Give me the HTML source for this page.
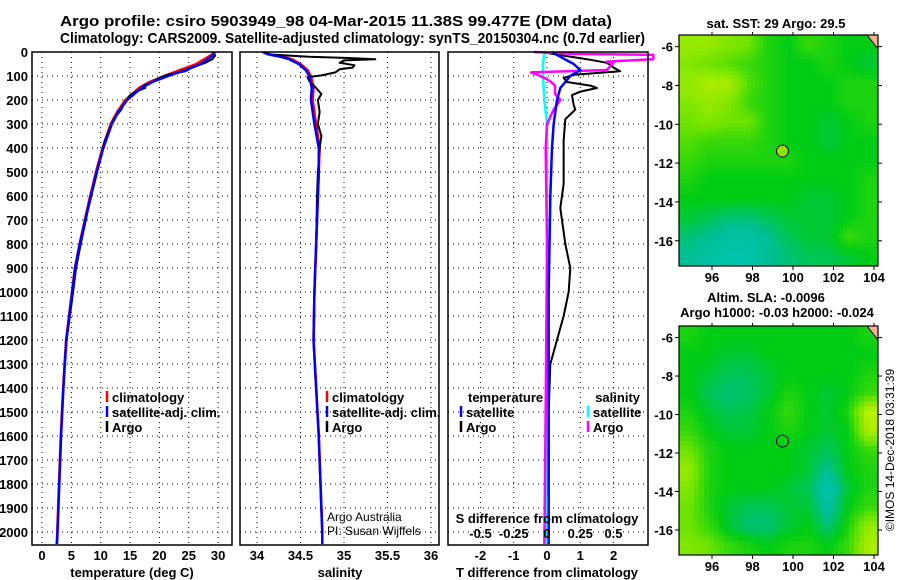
<!DOCTYPE html>
<html><head><meta charset="utf-8"><style>
body{margin:0;background:#fff}
svg{display:block}
text{font-family:"Liberation Sans",sans-serif;font-weight:bold;font-size:13px;fill:#000}
</style></head><body>
<svg id="c" width="900" height="580" viewBox="0 0 900 580">
<text x="60" y="26" textLength="552" lengthAdjust="spacingAndGlyphs" style="font-size:15px">Argo profile: csiro 5903949_98 04-Mar-2015 11.38S 99.477E (DM data)</text>
<text x="60" y="43" textLength="585" lengthAdjust="spacingAndGlyphs" style="font-size:15px">Climatology: CARS2009. Satellite-adjusted climatology: synTS_20150304.nc (0.7d earlier)</text>
</svg>
<script>
// ---- data ----
const depthTicks=[0,100,200,300,400,500,600,700,800,900,1000,1100,1200,1300,1400,1500,1600,1700,1800,1900,2000];
const tempTicks=[0,5,10,15,20,25,30];
const salTicks=[34,34.5,35,35.5,36];
const salTickLabels=["34","34.5","35","35.5","36"];
const tdiffTicks=[-2,-1,0,1,2];
const sdiffTicks=[-0.5,-0.25,0,0.25,0.5];
const sdiffTickLabels=["-0.5","-0.25","0","0.25","0.5"];
const tClim=[[0,29.3],[10,29],[25,28],[50,26.3],[75,23.5],[100,20.8],[125,18.3],[150,16.5],[200,14.2],[250,12.8],[300,11.7],[400,10.3],[500,9.2],[600,8.2],[700,7.3],[800,6.4],[900,5.6],[1000,5.1],[1200,4.1],[1400,3.6],[1600,3.2],[1800,2.9],[2000,2.6],[2050,2.5]];
const tSat=[[0,29.4],[10,29.3],[25,28.5],[50,27.1],[75,24.5],[100,21.5],[125,18.8],[150,16.9],[200,14.5],[250,13],[300,11.9],[400,10.45],[500,9.3],[600,8.3],[700,7.35],[800,6.45],[900,5.65],[1000,5.15],[1200,4.15],[1400,3.65],[1600,3.25],[1800,2.95],[2000,2.65],[2050,2.55]];
const tArgo=[[0,29.1],[15,29.5],[30,29.0],[45,27.8],[65,25.5],[80,24.5],[95,21.4],[108,20],[125,18.8],[140,17.3],[150,17.6],[165,16],[180,15],[220,13.9],[240,13.5],[280,12.2],[370,10.7],[550,8.9],[650,7.9],[800,6.6],[900,5.8],[1000,5.3],[1100,4.75],[1200,4.2],[1300,3.85],[1500,3.4],[1800,2.93],[2000,2.63]];
const sClim=[[0,34.08],[10,34.15],[20,34.3],[30,34.4],[50,34.5],[75,34.58],[100,34.62],[150,34.65],[200,34.64],[300,34.68],[400,34.72],[500,34.71],[600,34.7],[800,34.68],[1000,34.66],[1200,34.65],[1400,34.68],[1600,34.71],[1800,34.73],[2000,34.75],[2050,34.75]];
const sSat=[[0,34.08],[10,34.13],[20,34.27],[30,34.37],[50,34.48],[75,34.56],[100,34.6],[150,34.63],[200,34.62],[300,34.66],[400,34.71],[500,34.71],[600,34.7],[800,34.68],[1000,34.66],[1200,34.65],[1400,34.68],[1600,34.71],[1800,34.73],[2000,34.75],[2050,34.75]];
const sArgo=[[0,34.06],[10,34.12],[20,34.6],[25,35.05],[30,35.36],[35,35.0],[45,34.95],[55,35.12],[65,35.1],[72,34.95],[85,34.9],[97,34.75],[105,34.58],[120,34.6],[150,34.68],[175,34.74],[200,34.7],[250,34.72],[300,34.7],[350,34.74],[400,34.72],[500,34.7],[600,34.69],[800,34.68],[1000,34.66],[1200,34.65],[1400,34.68],[1600,34.71],[1800,34.73],[2000,34.75]];
const dTSat=[[0,0.15],[20,0.4],[50,0.8],[75,1.0],[100,0.7],[150,0.4],[200,0.3],[300,0.2],[400,0.15],[600,0.1],[1000,0.05],[2050,0.05]];
const dTArgo=[[0,-0.2],[15,0.5],[30,1.2],[45,1.8],[65,2.0],[80,2.2],[95,0.8],[108,0.5],[125,0.6],[140,1.3],[150,1.5],[165,1.0],[180,0.75],[220,0.8],[240,0.85],[280,0.55],[370,0.5],[550,0.5],[650,0.4],[800,0.55],[900,0.7],[1000,0.65],[1100,0.5],[1200,0.3],[1300,0.1],[1500,0.05],[2000,0.05]];
const dSSat=[[0,-0.02],[50,-0.03],[100,-0.03],[200,-0.02],[300,0],[2050,0]];
const dSArgo=[[0,-0.1],[8,0.2],[12,0.8],[30,0.8],[40,0.45],[45,0.5],[75,0.45],[85,-0.12],[100,-0.05],[120,0.02],[140,0.06],[175,0.06],[200,0.1],[240,0.05],[300,0],[400,-0.01],[800,0],[1500,-0.01],[2050,-0.02]];
const lonTicks=[96,98,100,102,104];
const latTicks=[-6,-8,-10,-12,-14,-16];
const sstGrid=[
[.8,.8,.75,.7,.55,.5,.6,.55,.5,.5],
[.75,.7,.65,.6,.55,.5,.5,.55,.5,.45],
[.8,.85,.85,.65,.55,.5,.5,.5,.55,.55],
[.75,.8,.75,.6,.55,.5,.5,.5,.55,.55],
[.7,.75,.7,.7,.55,.5,.5,.45,.5,.55],
[.65,.6,.6,.6,.55,.5,.5,.45,.5,.5],
[.6,.55,.55,.55,.55,.55,.5,.5,.5,.5],
[.55,.5,.5,.5,.5,.5,.5,.5,.5,.55],
[.5,.5,.5,.5,.5,.5,.45,.45,.5,.55],
[.45,.4,.35,.35,.4,.45,.45,.45,.5,.55],
[.35,.3,.25,.25,.3,.4,.45,.45,.6,.55],
[.3,.25,.2,.2,.3,.35,.4,.4,.45,.5]];
const slaGrid=[
[.55,.5,.5,.5,.5,.5,.5,.5,.5,.55],
[.5,.5,.45,.45,.5,.5,.5,.5,.5,.5],
[.5,.45,.4,.4,.45,.5,.5,.5,.5,.55],
[.5,.4,.35,.38,.45,.55,.5,.45,.5,.6],
[.55,.45,.4,.42,.5,.6,.5,.45,.55,.9],
[.6,.5,.45,.45,.5,.55,.5,.45,.5,.85],
[.7,.55,.5,.5,.5,.5,.45,.4,.5,.6],
[.8,.55,.5,.5,.5,.5,.45,.3,.5,.55],
[.75,.55,.5,.5,.5,.45,.4,.2,.45,.55],
[.7,.55,.45,.4,.4,.45,.45,.25,.5,.6],
[.7,.6,.45,.35,.35,.45,.5,.35,.55,.8],
[.75,.7,.6,.55,.5,.55,.55,.5,.6,.85]];

// ---- helpers ----
const svg=document.getElementById('c');const NS='http://www.w3.org/2000/svg';
function mk(tag,attrs,parent){const e=document.createElementNS(NS,tag);for(const k in attrs)e.setAttribute(k,attrs[k]);(parent||svg).appendChild(e);return e;}
const Y0=52,Y1=545;
const yD=d=>Y0+d*0.24;
const xT=v=>42+v*5.87;
const xS=v=>257+(v-34)*87;
const xDT=v=>547+v*33.3;
const xDS=v=>547+v*133;
function grid(x0,x1,xs){
  depthTicks.forEach(d=>{if(d>0){const l=mk('line',{x1:x0,x2:x1,y1:yD(d),y2:yD(d),stroke:'#000','stroke-dasharray':'1,4'});
  }});
  xs.forEach(x=>{const l=mk('line',{x1:x,x2:x,y1:Y0,y2:Y1,stroke:'#000','stroke-dasharray':'1,4'});
  });
}
function frame(x0,x1,name){const r=mk('rect',{x:x0,y:Y0,width:x1-x0,height:Y1-Y0,fill:'none',stroke:'#000','stroke-width':1.5});
}
function line(data,xf,color,name,w){const p=mk('polyline',{points:data.map(p=>xf(p[1])+','+yD(p[0])).join(' '),fill:'none',stroke:color,'stroke-width':w||2.5,'stroke-linejoin':'round'});
}
function txt(x,y,s,anchor,name,extra){const t=mk('text',Object.assign({x:x,y:y,'text-anchor':anchor||'start'},extra||{}));t.textContent=s;
return t;}
function legItem(x,y,color,label,name){const l=mk('line',{x1:x,x2:x,y1:y-11,y2:y,stroke:color,'stroke-width':2.5});

txt(x+5,y,label,'start',name);}

// panel 1
const p1a=32,p1b=232;
grid(p1a,p1b,tempTicks.map(xT));
line(tClim,xT,'#f00','temperature-climatology-line');
line(tArgo,xT,'#000','temperature-argo-line',2);
line(tSat,xT,'#00f','temperature-satellite-line');
frame(p1a,p1b,'temperature-plot-area');
depthTicks.forEach(d=>txt(28,yD(d)+5,String(d),'end','depth-tick-label'));
tempTicks.forEach(v=>txt(xT(v),560,String(v),'middle','temperature-tick-label'));
txt(132,577,'temperature (deg C)','middle','x-axis-title-temperature');
legItem(107,402,'#f00','climatology','legend-climatology');
legItem(107,417,'#00f','satellite-adj. clim.','legend-satellite-adj');
legItem(107,432,'#000','Argo','legend-argo');

// panel 2
const p2a=240,p2b=439;
grid(p2a,p2b,salTicks.map(xS));
line(sClim,xS,'#f00','salinity-climatology-line');
line(sArgo,xS,'#000','salinity-argo-line',2);
line(sSat,xS,'#00f','salinity-satellite-line');
frame(p2a,p2b,'salinity-plot-area');
salTicks.forEach((v,i)=>txt(xS(v),560,salTickLabels[i],'middle','salinity-tick-label'));
txt(340,577,'salinity','middle','x-axis-title-salinity');
legItem(327,402,'#f00','climatology','legend-climatology-2');
legItem(327,417,'#00f','satellite-adj. clim.','legend-satellite-adj-2');
legItem(327,432,'#000','Argo','legend-argo-2');
txt(327,521,'Argo Australia','start','credit-argo-australia',{style:'font-weight:normal;font-size:12px'});
txt(327,535,'PI: Susan Wijffels','start','credit-pi',{style:'font-weight:normal;font-size:12px'});

// panel 3
const p3a=448,p3b=648;
grid(p3a,p3b,tdiffTicks.map(xDT));
const defs=mk('defs',{});
const cp=mk('clipPath',{id:'cp3'},defs);mk('rect',{x:p3a,y:Y0,width:p3b-p3a,height:Y1-Y0},cp);
line(dSSat,xDS,'#0ff','salinity-diff-satellite-line');
line(dTArgo,xDT,'#000','temperature-diff-argo-line',2);
line(dSArgo,xDS,'#f0f','salinity-diff-argo-line');
line(dTSat,xDT,'#00f','temperature-diff-satellite-line');
frame(p3a,p3b,'difference-plot-area');
tdiffTicks.forEach(v=>txt(xDT(v),560,String(v),'middle','t-diff-tick-label'));
sdiffTicks.forEach((v,i)=>txt(xDS(v),538,sdiffTickLabels[i],'middle','s-diff-tick-label'));
txt(547,523,'S difference from climatology','middle','s-diff-axis-title');
txt(547,577,'T difference from climatology','middle','t-diff-axis-title');
txt(468,402,'temperature','start','legend-temperature-header');
legItem(461,417,'#00f','satellite','legend-t-satellite');
legItem(461,432,'#000','Argo','legend-t-argo');
txt(640,402,'salinity','end','legend-salinity-header');
legItem(588,417,'#0ff','satellite','legend-s-satellite');
legItem(588,432,'#f0f','Argo','legend-s-argo');

// maps
function col(v){const st=[[0,[0,205,215]],[0.3,[0,190,150]],[0.5,[0,205,20]],[0.7,[110,228,0]],[1,[230,245,0]]];
v=Math.max(0,Math.min(1,v));
for(let i=1;i<st.length;i++){if(v<=st[i][0]){const a=st[i-1],b=st[i],t=(v-a[0])/(b[0]-a[0]);
return 'rgb('+a[1].map((c,k)=>Math.round(c+(b[1][k]-c)*t)).join(',')+')';}}return 'rgb(230,245,0)';}
function sample(g,fx,fy){const R=g.length,C=g[0].length;
  let x=fx*C-0.5,y=fy*R-0.5;x=Math.max(0,Math.min(C-1,x));y=Math.max(0,Math.min(R-1,y));
  const x0=Math.floor(x),y0=Math.floor(y),x1=Math.min(C-1,x0+1),y1=Math.min(R-1,y0+1),tx=x-x0,ty=y-y0;
  return g[y0][x0]*(1-tx)*(1-ty)+g[y0][x1]*tx*(1-ty)+g[y1][x0]*(1-tx)*ty+g[y1][x1]*tx*ty;}
function map(top,bot,gridv,name,cs){
  const mx0=679,mx1=878;const lonX=l=>712+(l-96)*20.25;
  const latS=(bot-top)/(17.3-5.4); const ly=la=>top+(-5.4-la)*latS;
  const g=mk('g',{});
  const W=mx1-mx0,H=bot-top;
  for(let y=0;y<H;y+=cs)for(let x=0;x<W;x+=cs){
    const v=sample(gridv,(x+cs/2)/W,(y+cs/2)/H);
    const cell=mk('rect',{x:mx0+x,y:top+y,width:Math.min(cs,W-x)+0.5,height:Math.min(cs,H-y)+0.5,fill:col(v)},g);
    }
  const land=mk('polygon',{points:(mx1-11)+','+top+' '+mx1+','+top+' '+mx1+','+(top+14),fill:'#f8b090',stroke:'#000','stroke-width':1});
  
  const c=mk('circle',{cx:lonX(99.48),cy:ly(-11.38),r:6,fill:name==='sst-map'?'#90e000':'none',stroke:'#000','stroke-width':1});
  
  const fr=mk('rect',{x:mx0,y:top,width:W,height:H,fill:'none',stroke:'#000','stroke-width':1.2});
  
  lonTicks.forEach(l=>{mk('line',{x1:lonX(l),x2:lonX(l),y1:bot,y2:bot+4,stroke:'#000'});mk('line',{x1:lonX(l),x2:lonX(l),y1:top,y2:top-3,stroke:'#000'});
    txt(lonX(l),bot+16,String(l),'middle','lon-tick-label');});
  latTicks.forEach(la=>{mk('line',{x1:mx0-4,x2:mx0,y1:ly(la),y2:ly(la),stroke:'#000'});mk('line',{x1:mx1,x2:mx1+4,y1:ly(la),y2:ly(la),stroke:'#000'});
    txt(673,ly(la)+5,String(la),'end','lat-tick-label');});
}
map(35,266,sstGrid,'sst-map',4);
map(326,555,slaGrid,'sla-map',5);
txt(776,28,'sat. SST: 29 Argo: 29.5','middle','sst-map-title');
txt(766,302,'Altim. SLA: -0.0096','middle','sla-map-title');
txt(777,317,'Argo h1000: -0.03 h2000: -0.024','middle','sla-map-subtitle');
txt(894,450,'©IMOS 14-Dec-2018 03:31:39','middle','imos-timestamp',{transform:'rotate(-90 894 450)',style:'font-weight:normal;font-size:12px'});
</script>
</body></html>
